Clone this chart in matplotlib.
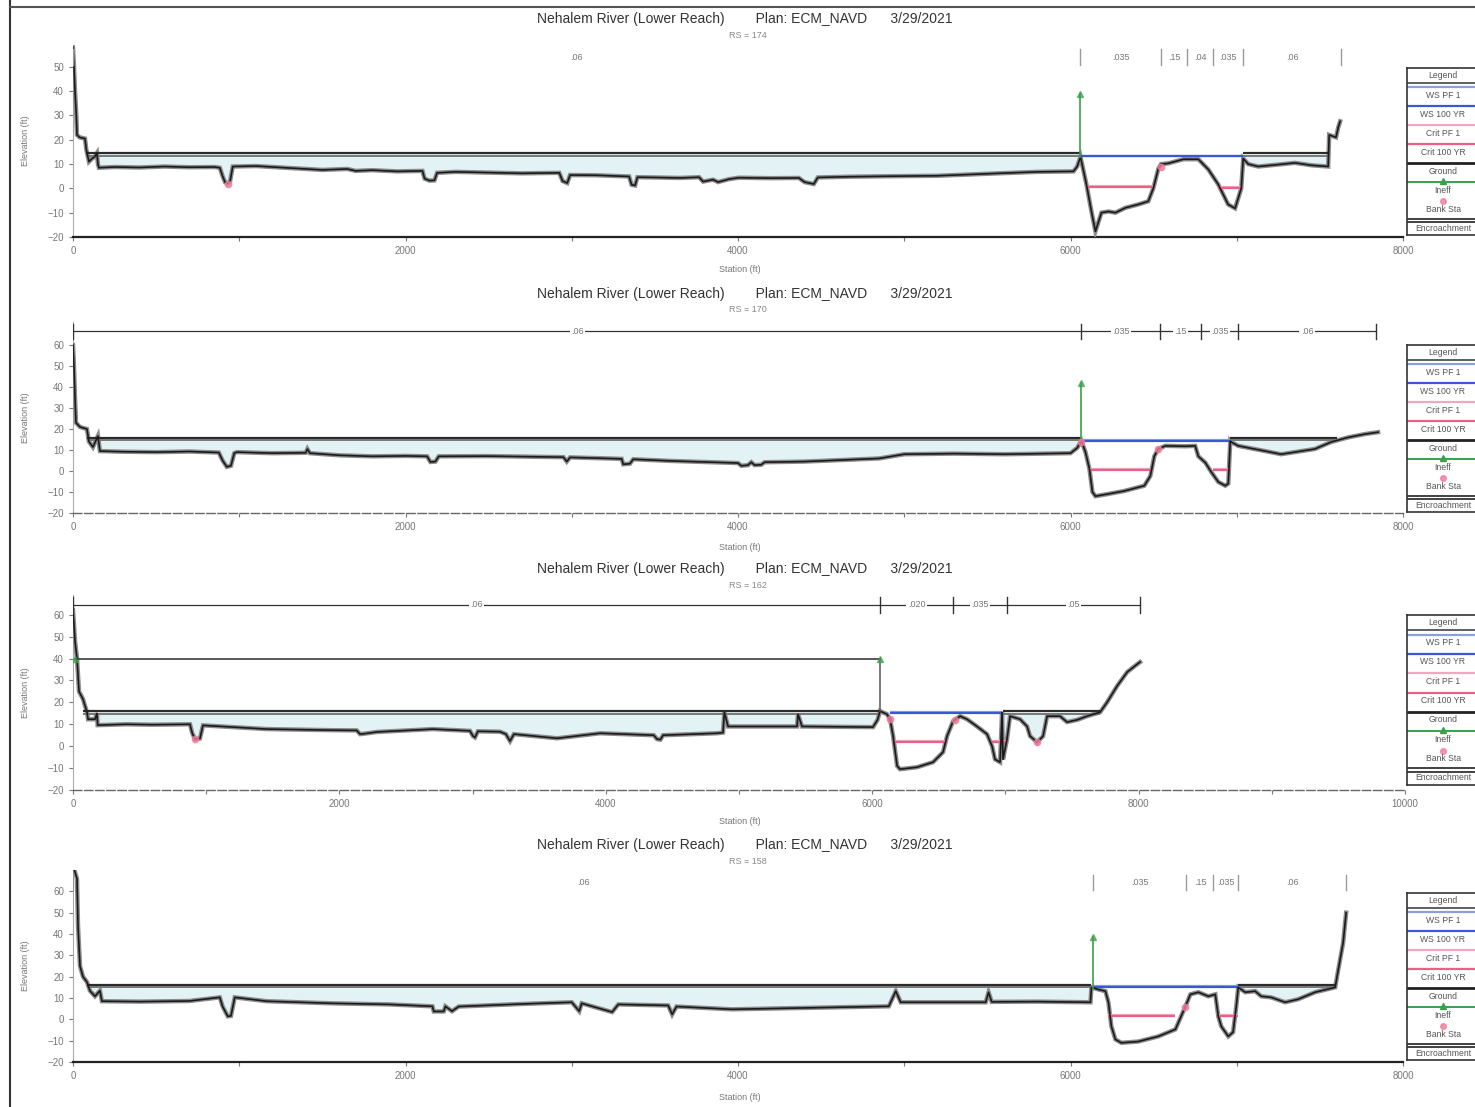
import numpy as np
import matplotlib.pyplot as plt
from matplotlib.lines import Line2D

plt.rcParams['font.family'] = ['Liberation Sans', 'DejaVu Sans']

W, H = 1475, 1107

title = "Nehalem River (Lower Reach)        Plan: ECM_NAVD      3/29/2021"
rs_labels = ["RS = 174", "RS = 170", "RS = 162", "RS = 158"]

legend_labels = ["WS PF 1", "WS 100 YR", "Crit PF 1", "Crit 100 YR",
                 "Ground", "Ineff", "Bank Sta", "Encroachment"]

# ---------------- RS 174
p1_sta = [0, 6, 12, 20, 24, 40, 72, 80, 96, 110, 130, 144, 150, 156, 250, 400, 550, 700, 850, 883,
          900, 915, 931, 945, 961, 1100, 1300, 1500, 1650, 1700, 1800, 1950, 2102, 2115, 2144, 2174,
          2190, 2300, 2500, 2700, 2925, 2945, 2973, 2990, 3150, 3345, 3360, 3381, 3395, 3500, 3650,
          3766, 3790, 3850, 3880, 3946, 4006, 4200, 4366, 4400, 4456, 4480, 4667, 4900, 5200, 5568,
          5800, 6018, 6040, 6060, 6096, 6126, 6150, 6186, 6228, 6270, 6330, 6408, 6468, 6498, 6528,
          6545, 6588, 6679, 6769, 6829, 6889, 6948, 6990, 7027, 7039, 7069, 7129, 7250, 7350, 7450,
          7550, 7556, 7597, 7610, 7622]
p1_elev = [58, 50, 40, 30, 22, 21, 20.5, 16, 11, 12, 13, 14.5, 10, 8.5, 8.8, 8.6, 9.0, 8.7, 8.8, 8.5,
           5, 2.5, 2, 3, 9, 9.2, 8.4, 7.6, 8.0, 7.2, 7.5, 7.0, 7.2, 4, 3.2, 3.3,
           6.4, 6.8, 6.5, 6.2, 6.4, 3, 2.2, 5.5, 5.4, 4.9, 1.5, 1.2, 4.6, 4.5, 4.3,
           4.6, 2.8, 3.6, 2.6, 3.8, 4.4, 4.2, 4.3, 2.6, 1.8, 4.5, 4.8, 5.0, 5.2, 6.2,
           6.8, 7.0, 9, 13, 1.6, -9.5, -17.7, -10, -9.5, -10, -8, -6.6, -5.3, 0, 8,
           10, 10.3, 12, 12, 7.8, 1.6, -6.6, -8.2, 0, 12.3, 10, 9, 9.8, 10.5, 9.5,
           9, 22, 21, 25, 27.6]
p1_ws_fp = 14.0
p1_ws_ch = 13.2
p1_fp_left = (80, 6060)
p1_fp_right = (7039, 7550)
p1_channel = (6060, 7039)
p1_crit = [(6096, 6498, 0.4), (6889, 7027, 0.3)]
p1_ineff = (6060, 13, 38.7)
p1_bank = [(931, 2), (6545, 9)]
p1_n_breaks = [0, 6060, 6546, 6700, 6860, 7039, 7628]
p1_n_values = [".06", ".035", ".15", ".04", ".035", ".06"]
p1_n_elev = 54

# ---------------- RS 170
p2_sta = [0, 6, 12, 18, 42, 84, 96, 120, 150, 162, 300, 500, 700, 877, 900, 925, 950, 970, 985,
          1200, 1400, 1410, 1425, 1600, 1800, 2000, 2130, 2150, 2180, 2200, 2500, 2950, 2970, 2990,
          3300, 3310, 3350, 3370, 3600, 4000, 4020, 4060, 4080, 4100, 4140, 4160, 4400, 4850, 5000,
          5300, 5600, 6000, 6040, 6066, 6090, 6114, 6132, 6150, 6222, 6324, 6444, 6480, 6504, 6528,
          6570, 6690, 6750, 6769, 6811, 6847, 6889, 6931, 6949, 6961, 6967, 7009, 7171, 7267, 7470,
          7567, 7669, 7771, 7850]
p2_elev = [60, 50, 35, 23, 21, 20, 14, 11.4, 16.7, 9.5, 9.2, 9.0, 9.3, 8.8, 5, 2, 2.5, 8.5, 9,
           8.5, 8.7, 10.5, 8.5, 7.5, 7.0, 7.2, 7.0, 4.3, 4.5, 7, 7.1, 6.6, 4.5, 6.5,
           5.8, 3.2, 3.5, 5.6, 4.8, 3.8, 2.5, 2.8, 4.2, 2.8, 3.0, 4.2, 4.5, 6.0, 8.0,
           8.3, 8.0, 8.5, 11, 14.3, 9, 1, -10, -12, -11, -9.5, -7, -2.4, 7, 10.5,
           12, 11.8, 12, 7, 4, -0.5, -5.2, -7, -6, 14.3, 13.8, 12, 9.5, 8, 10.5,
           13.8, 16, 17.6, 18.5]
p2_ws_fp = 15.2
p2_ws_ch = 14.3
p2_fp_left = (84, 6066)
p2_fp_right = (6961, 7600)
p2_channel = (6066, 6961)
p2_crit = [(6114, 6480, 0.5), (6859, 6955, 0.5)]
p2_ineff = (6066, 14.3, 41.9)
p2_bank = [(6066, 14), (6528, 10.5)]
p2_n_breaks = [0, 6066, 6540, 6787, 7009, 7838]
p2_n_values = [".06", ".035", ".15", ".035", ".06"]
p2_n_elev = 66.5

# ---------------- RS 162
p3_sta = [0, 8, 15, 30, 45, 75, 105, 113, 165, 180, 185, 400, 600, 878, 895, 916, 953, 976, 1201,
          1457, 1952, 2130, 2155, 2200, 2282, 2703, 2980, 3003, 3018, 3040, 3206, 3250, 3281, 3310,
          3634, 3957, 4360, 4385, 4410, 4430, 4835, 4880, 4890, 4918, 5436, 5443, 5473, 6006, 6040,
          6059, 6111, 6134, 6157, 6187, 6209, 6337, 6457, 6532, 6562, 6607, 6660, 6712, 6787, 6862,
          6900, 6922, 6960, 6975, 6982, 7012, 7035, 7110, 7163, 7185, 7238, 7283, 7313, 7410, 7463,
          7538, 7613, 7711, 7763, 7838, 7914, 7989, 8011]
p3_elev = [62, 55, 48, 40, 25, 21.5, 15.5, 12.3, 12.3, 15, 9.6, 10, 9.8, 10, 6, 3.2, 3.5, 9.5, 8.7,
           7.8, 7.3, 7.2, 5.5, 5.8, 6.5, 7.8, 7.0, 4.6, 4.0, 6.8, 6.6, 5.5, 2.3, 5.5,
           3.6, 5.9, 5.0, 3.2, 3.0, 5.0, 5.9, 6.2, 15.5, 9, 9, 14.6, 9, 8.7, 12,
           16, 14.6, 12.3, 4.6, -9, -10.5, -9.6, -7.3, -2.7, 4.6, 11.4, 13.7, 12.3, 9, 5.5,
           0, -6, -7.3, 15.5, -6, 3.2, 13.7, 12.3, 9, 4.6, 1.8, 4.6, 13.7, 13.7, 11,
           12, 13.7, 15.5, 20, 27.4, 33.8, 37.4, 38.4]
p3_ws_fp = 15.5
p3_ws_ch = 15.3
p3_fp_left = (75, 6059)
p3_fp_right = (6982, 7711)
p3_channel = (6134, 6975)
p3_crit = [(6165, 6562, 1.8), (6900, 7012, 1.8)]
p3_ineff_left = (15, 6059, 40.0)
p3_bank = [(916, 3.2), (6134, 12.3), (6620, 12), (7238, 1.8)]
p3_n_breaks = [0, 6059, 6607, 7012, 8011]
p3_n_values = [".06", ".020", ".035", ".05"]
p3_n_elev = 64.5

# ---------------- RS 158
p4_sta = [0, 24, 30, 42, 60, 84, 102, 132, 162, 174, 400, 700, 883, 900, 931, 950, 973, 1165,
          1562, 1900, 2162, 2170, 2230, 2240, 2280, 2320, 2700, 3000, 3045, 3060, 3243, 3280, 3580,
          3604, 3630, 3964, 4565, 4907, 4949, 4979, 5490, 5507, 5526, 5800, 6120, 6126, 6168, 6210,
          6228, 6246, 6270, 6306, 6408, 6528, 6631, 6691, 6721, 6769, 6829, 6871, 6889, 6907, 6949,
          6978, 6997, 7009, 7051, 7111, 7147, 7207, 7291, 7369, 7471, 7592, 7610, 7640, 7658]
p4_elev = [72, 66, 44, 25, 20, 17.5, 13.4, 10.8, 13.4, 8.5, 8.3, 8.6, 10.3, 6, 1.4, 1.6, 10.3, 8.5,
           7.5, 7.0, 6.1, 3.7, 3.7, 6.1, 3.8, 6.0, 7.2, 8.0, 3.8, 7.5, 3.4, 7.0, 6.5,
           2.3, 6.0, 4.7, 5.6, 6.1, 13.2, 8.0, 8.0, 12.7, 8.2, 8.3, 8.0, 15, 14, 13.2,
           8, -3.3, -9.4, -11, -10.4, -8, -4.7, 6, 11.7, 12.7, 10.8, 11.7, 1.4, -3.3, -8,
           -6, 6, 15, 12.7, 13.2, 10.8, 10.3, 8, 9.4, 12.7, 15, 23, 36, 50]
p4_ws_fp = 15.8
p4_ws_ch = 15.2
p4_fp_left = (84, 6126)
p4_fp_right = (7009, 7592)
p4_channel = (6138, 7009)
p4_crit = [(6228, 6631, 1.4), (6889, 7009, 1.4)]
p4_ineff = (6138, 14, 38.6)
p4_bank = [(6691, 6)]
p4_n_breaks = [0, 6138, 6697, 6860, 7009, 7658]
p4_n_values = [".06", ".035", ".15", ".035", ".06"]
p4_n_elev = 64

panels = [
    dict(sta=p1_sta, elev=p1_elev, ws_fp=p1_ws_fp, ws_ch=p1_ws_ch, fpl=p1_fp_left, fpr=p1_fp_right,
         ch=p1_channel, crit=p1_crit, ineff=p1_ineff, bank=p1_bank, nb=p1_n_breaks, nv=p1_n_values,
         ne=p1_n_elev, rect=(73, 45, 1403, 237), xmax=8000, ylim=(-20, 59), title_y=19, xl_y=270,
         leg=(68, 235), faint=True),
    dict(sta=p2_sta, elev=p2_elev, ws_fp=p2_ws_fp, ws_ch=p2_ws_ch, fpl=p2_fp_left, fpr=p2_fp_right,
         ch=p2_channel, crit=p2_crit, ineff=p2_ineff, bank=p2_bank, nb=p2_n_breaks, nv=p2_n_values,
         ne=p2_n_elev, rect=(73, 322, 1403, 513), xmax=8000, ylim=(-20, 71), title_y=294, xl_y=547,
         leg=(345, 512), faint=False),
    dict(sta=p3_sta, elev=p3_elev, ws_fp=p3_ws_fp, ws_ch=p3_ws_ch, fpl=p3_fp_left, fpr=p3_fp_right,
         ch=p3_channel, crit=p3_crit, ineff=None, bank=p3_bank, nb=p3_n_breaks, nv=p3_n_values,
         ne=p3_n_elev, rect=(73, 595, 1405, 790), xmax=10000, ylim=(-20, 69), title_y=569, xl_y=822,
         leg=(615, 785), faint=False),
    dict(sta=p4_sta, elev=p4_elev, ws_fp=p4_ws_fp, ws_ch=p4_ws_ch, fpl=p4_fp_left, fpr=p4_fp_right,
         ch=p4_channel, crit=p4_crit, ineff=p4_ineff, bank=p4_bank, nb=p4_n_breaks, nv=p4_n_values,
         ne=p4_n_elev, rect=(73, 870, 1403, 1062), xmax=8000, ylim=(-20, 70), title_y=845, xl_y=1097,
         leg=(893, 1060), faint=True),
]

c_ws1 = '#8a9fe0'
c_ws100 = '#3b57d6'
c_crit1 = '#f4a6bf'
c_crit100 = '#ee5f86'
c_ineff = '#3aa04a'
c_bank = '#f27a9a'
c_fill = '#e2f2f5'

fig = plt.figure(figsize=(W / 100, H / 100), dpi=100)

# page frame of the scan
fig.add_artist(Line2D([10 / W, 10 / W], [0, 1], color='#333333', lw=1.5))
fig.add_artist(Line2D([10 / W, 1], [1 - 7 / H, 1 - 7 / H], color='#555555', lw=1.5))


def draw_legend(top, bottom):
    lax = fig.add_axes([1407 / W, 1 - bottom / H, 80 / W, (bottom - top) / H])
    lax.set_xlim(0, 1)
    lax.set_ylim(0, 1)
    lax.set_xticks([])
    lax.set_yticks([])
    for s in lax.spines.values():
        s.set_color('#333333')
        s.set_linewidth(1.2)
    lax.text(0.45, 0.955, "Legend", ha='center', va='center', fontsize=6.2, color='#555555')
    lax.plot([0, 1], [0.91, 0.91], color='#444444', lw=1.2)
    step = 0.91 / 8
    for i, lab in enumerate(legend_labels):
        yt = 0.91 - i * step
        yl = yt - 0.025
        ytx = yt - 0.072
        if lab == "WS PF 1":
            lax.plot([0, 1], [yl, yl], color=c_ws1, lw=1.6)
        elif lab == "WS 100 YR":
            lax.plot([0, 1], [yl, yl], color=c_ws100, lw=1.6)
        elif lab == "Crit PF 1":
            lax.plot([0, 1], [yl, yl], color=c_crit1, lw=1.6)
        elif lab == "Crit 100 YR":
            lax.plot([0, 1], [yl, yl], color=c_crit100, lw=1.6)
        elif lab == "Ground":
            lax.plot([0, 1], [yl, yl], color='#222222', lw=2)
        elif lab == "Ineff":
            lax.plot([0, 1], [yl, yl], color=c_ineff, lw=1.4)
            lax.plot([0.45], [yl + 0.01], marker='^', color=c_ineff, ms=4)
        elif lab == "Bank Sta":
            lax.plot([0.45], [yl], marker='o', color=c_bank, ms=4, alpha=0.8)
        else:
            lax.plot([0, 1], [yl + 0.01, yl + 0.01], color='#333333', lw=1.3)
            lax.plot([0, 1], [yl - 0.01, yl - 0.01], color='#333333', lw=1.3)
        lax.text(0.45, ytx, lab, ha='center', va='center', fontsize=6.2, color='#555555')


for k, p in enumerate(panels):
    l, t, r, b = p['rect']
    ax = fig.add_axes([l / W, 1 - b / H, (r - l) / W, (b - t) / H])
    st = np.array(p['sta'], dtype=float)
    el = np.array(p['elev'], dtype=float)

    # water in the overbanks
    for a, bnd in (p['fpl'], p['fpr']):
        m = (st >= a) & (st <= bnd)
        ax.fill_between(st, el, p['ws_fp'], where=m & (el < p['ws_fp']), interpolate=True,
                        color=c_fill, lw=0, zorder=1)
        ax.hlines(p['ws_fp'] + 0.5, a, bnd, color='#2b2b2b', lw=1.6, zorder=4)
        ax.hlines(p['ws_fp'] - 0.6, a, bnd, color='#777777', lw=1.4, zorder=4)

    # channel water surfaces
    ax.hlines(p['ws_ch'] + 0.3, p['ch'][0], p['ch'][1], color=c_ws1, lw=1.6, zorder=4)
    ax.hlines(p['ws_ch'], p['ch'][0], p['ch'][1], color=c_ws100, lw=1.6, zorder=4)
    for a, bnd, e in p['crit']:
        ax.hlines(e + 0.4, a, bnd, color=c_crit1, lw=1.6, zorder=4)
        ax.hlines(e, a, bnd, color=c_crit100, lw=1.6, zorder=4)

    # ground
    ax.plot(st, el, color='#8c8c8c', lw=3.2, zorder=3, solid_joinstyle='miter')
    ax.plot(st, el, color='#1a1a1a', lw=1.2, zorder=5)

    # ineffective flow
    if p['ineff'] is not None:
        s0, e0, e1 = p['ineff']
        ax.plot([s0, s0], [e0, e1], color=c_ineff, lw=1.2, zorder=6)
        ax.plot([s0], [e1], marker='^', color=c_ineff, ms=4, alpha=0.7, zorder=6)
    else:
        s0, s1, e1 = p3_ineff_left
        ax.plot([s0, s1], [e1, e1], color='#2b2b2b', lw=1.1, zorder=6)
        ax.plot([s1, s1], [e1, p3_elev[p3_sta.index(s1)]], color='#555555', lw=1.1, zorder=6)
        ax.plot([s0, s1], [e1, e1], ls='none', marker='^', color=c_ineff, ms=5, alpha=0.7, zorder=7)

    bx = [q[0] for q in p['bank']]
    by = [q[1] for q in p['bank']]
    ax.plot(bx, by, ls='none', marker='o', ms=4.5, color=c_bank, alpha=0.8, zorder=7)

    # Manning's n along the top
    nb = p['nb']
    ne = p['ne']
    tcol = '#999999' if p['faint'] else '#333333'
    if not p['faint']:
        ax.plot([nb[0], nb[-1]], [ne, ne], color='#333333', lw=0.9, zorder=6)
    span = p['ylim'][1] - p['ylim'][0]
    for s in nb:
        ax.plot([s, s], [ne - span * 0.04, ne + span * 0.04], color=tcol, lw=1.0, zorder=6)
    for i, v in enumerate(p['nv']):
        xm = (nb[i] + nb[i + 1]) / 2
        ax.text(xm, ne, v, ha='center', va='center', fontsize=6.5, color='#777777', zorder=7,
                bbox=dict(facecolor='white', edgecolor='none', pad=1.0))

    ax.set_xlim(0, p['xmax'])
    ax.set_ylim(*p['ylim'])
    ax.set_xticks(np.arange(0, p['xmax'] + 1, 2000))
    ax.set_xticks(np.arange(0, p['xmax'] + 1, 1000), minor=True)
    ax.set_yticks(np.arange(-20, p['ylim'][1] - 5, 10))
    ax.tick_params(axis='both', which='both', labelsize=7, colors='#777777', length=3,
                   direction='out', width=0.8)
    ax.spines['top'].set_visible(False)
    ax.spines['right'].set_visible(False)
    ax.spines['left'].set_color('#aaaaaa')
    ax.spines['left'].set_linestyle((0, (2, 1)))
    if p['faint']:
        ax.spines['bottom'].set_color('#222222')
        ax.spines['bottom'].set_linewidth(1.6)
    else:
        ax.spines['bottom'].set_color('#666666')
        ax.spines['bottom'].set_linewidth(1.0)
        ax.spines['bottom'].set_linestyle((0, (6, 2)))
    ax.patch.set_alpha(0)

    fig.text(745 / W, 1 - p['title_y'] / H, title, ha='center', va='center', fontsize=10,
             color='#333333')
    fig.text(748 / W, 1 - (p['title_y'] + 16) / H, rs_labels[k], ha='center', va='center',
             fontsize=6.5, color='#888888')
    fig.text(740 / W, 1 - p['xl_y'] / H, "Station (ft)", ha='center', va='center', fontsize=6.5,
             color='#777777')
    fig.text(25 / W, 1 - ((t + b) / 2) / H, "Elevation (ft)", ha='center', va='center',
             rotation=90, fontsize=6.5, color='#777777')

    draw_legend(*p['leg'])

fig.savefig('out.png', dpi=100)
